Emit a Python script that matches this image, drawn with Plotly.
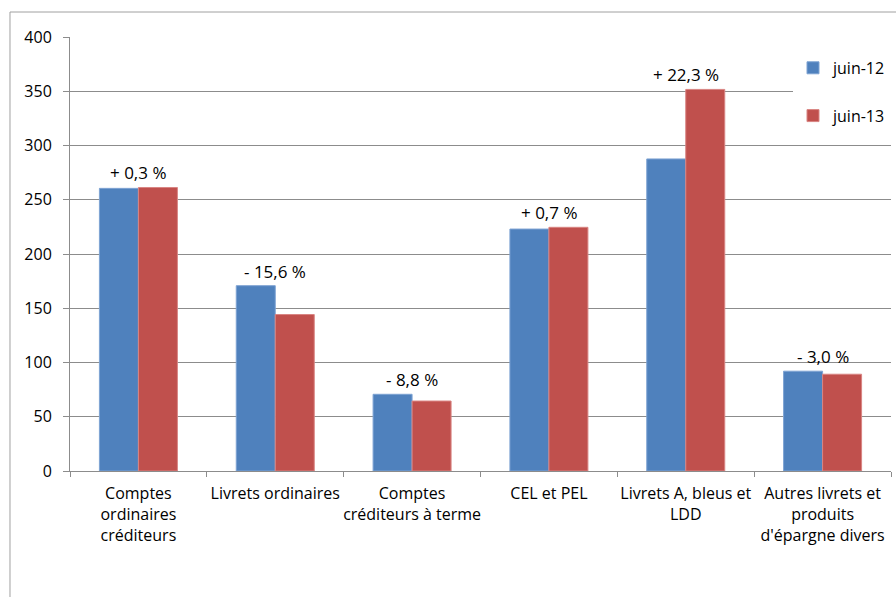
import plotly.graph_objects as go

# Encours par catégorie de placement (en milliards d'euros)
categories = [
    "Comptes<br>ordinaires<br>créditeurs",
    "Livrets ordinaires",
    "Comptes<br>créditeurs à terme",
    "CEL et PEL",
    "Livrets A, bleus et<br>LDD",
    "Autres livrets et<br>produits<br>d'épargne divers",
]
juin_12 = [260.5, 170.8, 70.7, 223.0, 287.6, 92.0]
juin_13 = [261.3, 144.2, 64.5, 224.6, 351.7, 89.2]
variations = ["+ 0,3 %", "- 15,6 %", "- 8,8 %", "+ 0,7 %", "+ 22,3 %", "- 3,0 %"]
y_ticks = [0, 50, 100, 150, 200, 250, 300, 350, 400]

FONT = "'Open Sans', Lato, sans-serif"
GRID = "#8c8c8c"

fig = go.Figure()
fig.add_trace(go.Bar(
    name="juin-12", x=categories, y=juin_12, legendgroup="a",
    marker=dict(color="#4F81BD", line=dict(color="#7ea3d3", width=1)),
))
fig.add_trace(go.Bar(
    name="juin-13", x=categories, y=juin_13, legendgroup="b",
    marker=dict(color="#C0504D", line=dict(color="#d98583", width=1)),
))

# Variation annuelle au-dessus de chaque groupe
for cat, a, b, txt in zip(categories, juin_12, juin_13, variations):
    fig.add_annotation(
        x=cat, y=max(a, b), text=txt, showarrow=False,
        yanchor="bottom", yshift=1,
        font=dict(family=FONT, size=17, color="#000000"),
    )

# Cadre du graphique
fig.add_shape(
    type="rect", xref="paper", yref="paper",
    x0=-0.0731, x1=1.2, y0=-0.6, y1=1.0576,
    line=dict(color="#a0a0a0", width=1), layer="below",
)

fig.update_layout(
    width=896, height=597,
    margin=dict(l=70, r=5, t=37, b=126, autoexpand=False),
    paper_bgcolor="white", plot_bgcolor="white",
    barmode="group", bargap=0.43, bargroupgap=0,
    font=dict(family=FONT, size=16, color="#000000"),
    legend=dict(
        x=1.0, y=0.968, xanchor="right", yanchor="top",
        bgcolor="white", font=dict(size=16),
        itemwidth=30, tracegroupgap=24,
        traceorder="grouped",
    ),
    showlegend=True,
)
fig.update_xaxes(
    showline=True, linecolor=GRID, linewidth=1,
    ticks="outside", tickson="boundaries", ticklen=5, tickcolor=GRID,
    showgrid=False, ticklabelstandoff=8, tickangle=0, automargin=False,
)
fig.update_yaxes(
    range=[0, 400], tickvals=y_ticks,
    showline=True, linecolor=GRID, linewidth=1,
    showgrid=True, gridcolor=GRID, gridwidth=1,
    ticks="outside", ticklen=6, tickcolor=GRID,
    ticklabelstandoff=8, zeroline=False, automargin=False,
)

fig.write_html("out.html")
